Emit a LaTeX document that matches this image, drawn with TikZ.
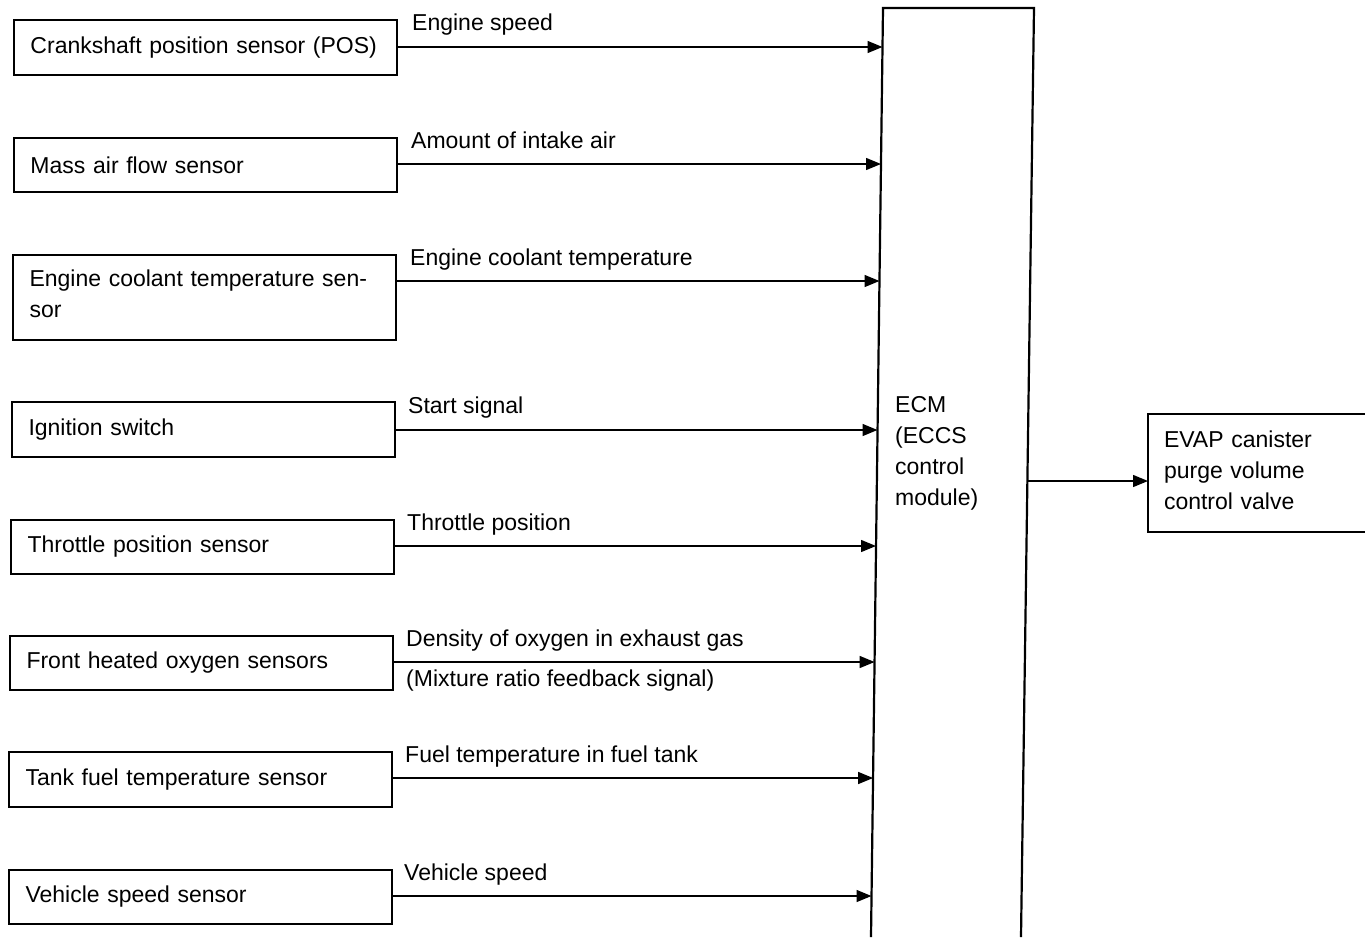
\documentclass[tikz,border=0pt]{standalone}
\usepackage{fontspec}
\setmainfont{Liberation Sans}
\usetikzlibrary{arrows.meta}
\begin{document}
\begin{tikzpicture}[x=1pt,y=-1pt,
  font=\fontsize{23}{31}\selectfont,
  sensor/.style={draw, line width=1.8pt, rectangle, anchor=north west,
    minimum width=383pt, minimum height=55pt, text width=350pt,
    inner xsep=16pt, inner ysep=0pt, align=left, outer sep=0pt},
  sig/.style={line width=1.4pt, -{Triangle[length=15pt,width=12pt]}},
  lbl/.style={anchor=base west, inner sep=0pt}]
\useasboundingbox (0,0) rectangle (1365,937);

% sensor boxes
\node[sensor] (s1) at (14,20) {Crankshaft position sensor (POS)};
\node[sensor, minimum height=54pt] (s2) at (14,138) {Mass air flow sensor};
\node[sensor, minimum height=85pt] (s3) at (13,255) {Engine coolant temperature sen-\\sor\\[-23pt]\rule{0pt}{0pt}};
\node[sensor] (s4) at (12,402) {Ignition switch};
\node[sensor, minimum height=54pt] (s5) at (11,520) {Throttle position sensor};
\node[sensor, minimum height=54pt] (s6) at (10,636) {Front heated oxygen sensors};
\node[sensor] (s7) at (9,752) {Tank fuel temperature sensor};
\node[sensor, minimum height=54pt] (s8) at (9,870) {Vehicle speed sensor};

% ECM outline (open at the bottom)
\draw[line width=2.2pt] (871,937) -- (883,8) -- (1034,8) -- (1021,937);
\node[anchor=north west, inner sep=0pt, align=left] (ecm) at (895,396)
  {ECM\\(ECCS\\control\\module)};

% arrow end points on ECM left edge
\coordinate (e1) at (882.5,47);
\coordinate (e2) at (881.0,164);
\coordinate (e3) at (879.5,281);
\coordinate (e4) at (877.5,430);
\coordinate (e5) at (876.0,546);
\coordinate (e6) at (874.6,662);
\coordinate (e7) at (873.1,778);
\coordinate (e8) at (871.5,896);
\coordinate (eo) at (1027.4,481);

% signals
\draw[sig] (s1.east |- 0,47) -- (e1);
\draw[sig] (s2.east |- 0,164) -- (e2);
\draw[sig] (s3.east |- 0,281) -- (e3);
\draw[sig] (s4.east |- 0,430) -- (e4);
\draw[sig] (s5.east |- 0,546) -- (e5);
\draw[sig] (s6.east |- 0,662) -- (e6);
\draw[sig] (s7.east |- 0,778) -- (e7);
\draw[sig] (s8.east |- 0,896) -- (e8);

\node[lbl] (l1) at (412,30) {Engine speed};
\node[lbl] (l2) at (411,148) {Amount of intake air};
\node[lbl] (l3) at (410,265) {Engine coolant temperature};
\node[lbl] (l4) at (408,413) {Start signal};
\node[lbl] (l5) at (407,530) {Throttle position};
\node[lbl] (l6) at (406,646) {Density of oxygen in exhaust gas};
\node[lbl] (l6b) at (406,686) {(Mixture ratio feedback signal)};
\node[lbl] (l7) at (405,762) {Fuel temperature in fuel tank};
\node[lbl] (l8) at (404,880) {Vehicle speed};

% output
\node[draw, line width=1.8pt, anchor=north west, minimum width=214pt,
  minimum height=118pt, text width=190pt, inner xsep=16pt, align=left,
  outer sep=0pt] (evap) at (1148,414)
  {EVAP canister\\purge volume\\control valve\\[-25pt]\rule{0pt}{0pt}};
\draw[sig] (eo) -- (evap.west |- eo);
\end{tikzpicture}
\end{document}
